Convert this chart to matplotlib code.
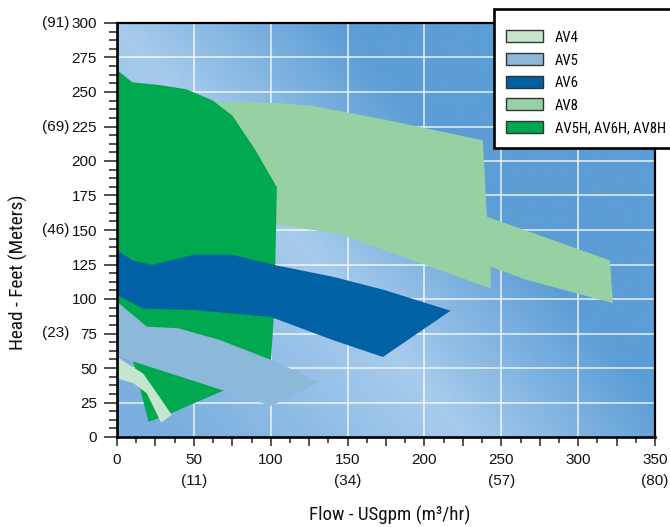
import numpy as np
import matplotlib
matplotlib.use('Agg')
import matplotlib.pyplot as plt
from matplotlib.patches import Polygon, Patch
from matplotlib.ticker import FixedLocator, MultipleLocator
from matplotlib.font_manager import FontProperties
from matplotlib import font_manager as fm
import matplotlib.transforms as mtransforms

# ---------------- data (flow in USgpm, head in feet) ----------------
av8_flow = [62, 104, 127, 141, 174, 238, 240.7, 320.6, 322.7, 266.6, 243, 243, 145, 104, 80, 62]
av8_head = [243, 242, 240, 237, 230, 215, 159.6, 128, 97, 113.8, 123.4, 107.7, 147, 154, 154, 200]

av5h_flow = [0, 10, 28, 45, 62, 75, 90, 104, 103, 102, 100, 65, 40, 20, 0]
av5h_head = [266, 257, 255, 252, 244, 233, 208, 181, 128, 87, 53, 67, 76, 78, 94]

av5h_low_flow = [10, 20.5, 36, 72, 50]
av5h_low_head = [57, 11, 17.6, 35, 52]

av6_flow = [0, 10, 22.7, 35, 50, 75, 103, 141, 174, 217, 173, 141, 100, 50, 17, 0]
av6_head = [135.5, 128, 124.6, 128, 132, 132, 124.5, 116, 106.5, 91.5, 58, 70, 87, 92, 93, 103]

av5_flow = [0, 19.4, 39.9, 66.9, 100.4, 131.7, 100.4, 0]
av5_head = [98, 80, 78.8, 70.3, 55.8, 40, 22.5, 58.5]

av4_flow = [0, 6.5, 17, 26, 35.6, 28.7, 19.4, 10.8, 0]
av4_head = [58.2, 53.4, 46, 31.7, 16, 10.4, 31.7, 38.9, 42.5]

legend_labels = ["AV4", "AV5", "AV6", "AV8", "AV5H, AV6H, AV8H"]
legend_colors = ["#c6e5cd", "#8cb8d9", "#0062a4", "#97d1a3", "#00a84f"]

x_tick_values = [0, 25, 50, 75, 100, 125, 150, 175, 200, 225, 250, 275, 300, 325, 350]
x_tick_labels = ["0", "", "50\n(11)", "", "100", "", "150\n(34)", "", "200", "",
                 "250\n(57)", "", "300", "", "350\n(80)"]
y_tick_values = [0, 25, 50, 75, 100, 125, 150, 175, 200, 225, 250, 275, 300]
y_metric_values = [300, 225, 150, 75]
y_metric_labels = ["(91)", "(69)", "(46)", "(23)"]
grid_x = [50, 100, 150, 200, 250, 300]
grid_y = [25, 50, 75, 100, 125, 150, 175, 200, 225, 250, 275]

# ---------------- fonts ----------------
REG = ['Liberation Sans', 'DejaVu Sans']
_names = {f.name for f in fm.fontManager.ttflist}
_cond_fp = None
for cand in ['Liberation Sans Narrow', 'Roboto Condensed', 'Open Sans Condensed',
             'Noto Sans Condensed', 'DejaVu Sans Condensed', 'Arial Narrow']:
    if cand in _names:
        _cond_fp = dict(family=[cand, 'DejaVu Sans'], stretch='normal')
        break
if _cond_fp is None:
    if any(f.name == 'DejaVu Sans' and str(f.stretch) in ('condensed', '75', 'semi-condensed')
           for f in fm.fontManager.ttflist):
        _cond_fp = dict(family=['DejaVu Sans'], stretch='condensed')
HAVE_COND = _cond_fp is not None
if not HAVE_COND:
    _cond_fp = dict(family=REG, stretch='normal')


def cprop(size):
    return FontProperties(family=_cond_fp['family'], stretch=_cond_fp['stretch'], size=size)


fig = plt.figure(figsize=(6.7, 5.27), dpi=100)
ax = fig.add_axes([117/670, 1-437/527, 538/670, 414/527])

# ---------------- background gradient ----------------
gx = np.linspace(0, 350, 351)
gy = np.linspace(0, 300, 301)
GX, GY = np.meshgrid(gx, gy)
PX = GX * 1.544
PY = GY * 1.38
d = (PX * 414 + (PY - 414) * 352) / 543.4
L = np.array([0xa7, 0xcb, 0xec]) / 255
D = np.array([0x5c, 0x9d, 0xd6]) / 255
M = np.array([0x7a, 0xaf, 0xdf]) / 255
tpos = np.clip(d / 170, 0, 1)[..., None]
tneg = np.clip(-d / 220, 0, 1)[..., None]
img = np.where((d >= 0)[..., None], L + (D - L) * tpos, L + (M - L) * tneg)
ax.imshow(img, extent=[0, 350, 0, 300], origin='lower', aspect='auto',
          zorder=0, interpolation='bilinear')

for v in grid_x:
    ax.axvline(v, color='white', lw=1.1, alpha=0.85, zorder=0.5)
for v in grid_y:
    ax.axhline(v, color='white', lw=1.1, alpha=0.85, zorder=0.5)


# ---------------- polygons ----------------
def poly(fl, hd, color, z):
    ax.add_patch(Polygon(np.column_stack([fl, hd]), closed=True, facecolor=color,
                         edgecolor='none', zorder=z))


poly(av8_flow, av8_head, legend_colors[3], 2)
poly(av5h_flow, av5h_head, legend_colors[4], 3)
poly(av5h_low_flow, av5h_low_head, legend_colors[4], 3)
poly(av6_flow, av6_head, legend_colors[2], 4)
poly(av5_flow, av5_head, legend_colors[1], 5)
poly(av4_flow, av4_head, legend_colors[0], 6)

ax.set_xlim(0, 350)
ax.set_ylim(0, 300)

# ---------------- ticks ----------------
ax.xaxis.set_major_locator(FixedLocator(x_tick_values))
ax.set_xticklabels(x_tick_labels)
ax.xaxis.set_minor_locator(MultipleLocator(12.5))
ax.yaxis.set_major_locator(FixedLocator(y_tick_values))
ax.set_yticklabels([str(v) for v in y_tick_values])
ax.yaxis.set_minor_locator(MultipleLocator(6.25))

ax.tick_params(axis='x', which='major', direction='out', length=6.5, width=1.1,
               color='#222222', pad=5)
ax.tick_params(axis='x', which='minor', direction='out', length=4, width=1.1,
               color='#222222')
ax.tick_params(axis='y', which='major', direction='out', length=9.4, width=1.1,
               color='#222222', pad=5)
ax.tick_params(axis='y', which='minor', direction='out', length=5.8, width=1.1,
               color='#222222')
for lab in ax.get_xticklabels() + ax.get_yticklabels():
    lab.set_fontfamily(REG)
    lab.set_fontsize(11)
    lab.set_color('#111111')
for lab in ax.get_xticklabels():
    lab.set_linespacing(1.65)

for s in ['left', 'bottom']:
    ax.spines[s].set_linewidth(1.9)
for s in ['top', 'right']:
    ax.spines[s].set_linewidth(1.6)
for s in ax.spines.values():
    s.set_color('black')
    s.set_zorder(10)

trans = mtransforms.blended_transform_factory(fig.transFigure, ax.transData)
for v, lab in zip(y_metric_values, y_metric_labels):
    ax.text(42/670, v, lab, transform=trans, ha='left', va='center',
            fontsize=11, family=REG, color='#111111', clip_on=False)

ylab = fig.text(18/670, 1-272/527, 'Head - Feet (Meters)', rotation=90, ha='center',
                va='center', fontproperties=cprop(13.9 if HAVE_COND else 12.5),
                color='#111111')
xlab = fig.text(390/670, 1-515/527, 'Flow - USgpm (m³/hr)', ha='center', va='center',
                fontproperties=cprop(13.7 if HAVE_COND else 12), color='#111111')

# ---------------- legend ----------------
handles = [Patch(facecolor=c, edgecolor='#333333', lw=1.0, label=l)
           for c, l in zip(legend_colors, legend_labels)]
leg_size = 11.7
leg = fig.legend(handles=handles, loc='upper left',
                 bbox_to_anchor=(494/670, 1-9/527), frameon=True, fancybox=False,
                 edgecolor='black', framealpha=1,
                 prop=cprop(leg_size), title=' ', title_fontsize=0.5,
                 handlelength=2.25, handleheight=0.74, handletextpad=0.76,
                 labelspacing=0.5, borderpad=0.75, borderaxespad=0)
leg.get_frame().set_linewidth(1.9)
leg.set_zorder(20)

# make the long label fit inside the picture
fig.canvas.draw()
r = fig.canvas.get_renderer()
for _ in range(12):
    ext = leg.get_texts()[-1].get_window_extent(r)
    if ext.x1 <= 668:
        break
    leg_size -= 0.3
    for t in leg.get_texts():
        t.set_fontsize(leg_size)
    fig.canvas.draw()

fig.savefig('out.png', dpi=100)
